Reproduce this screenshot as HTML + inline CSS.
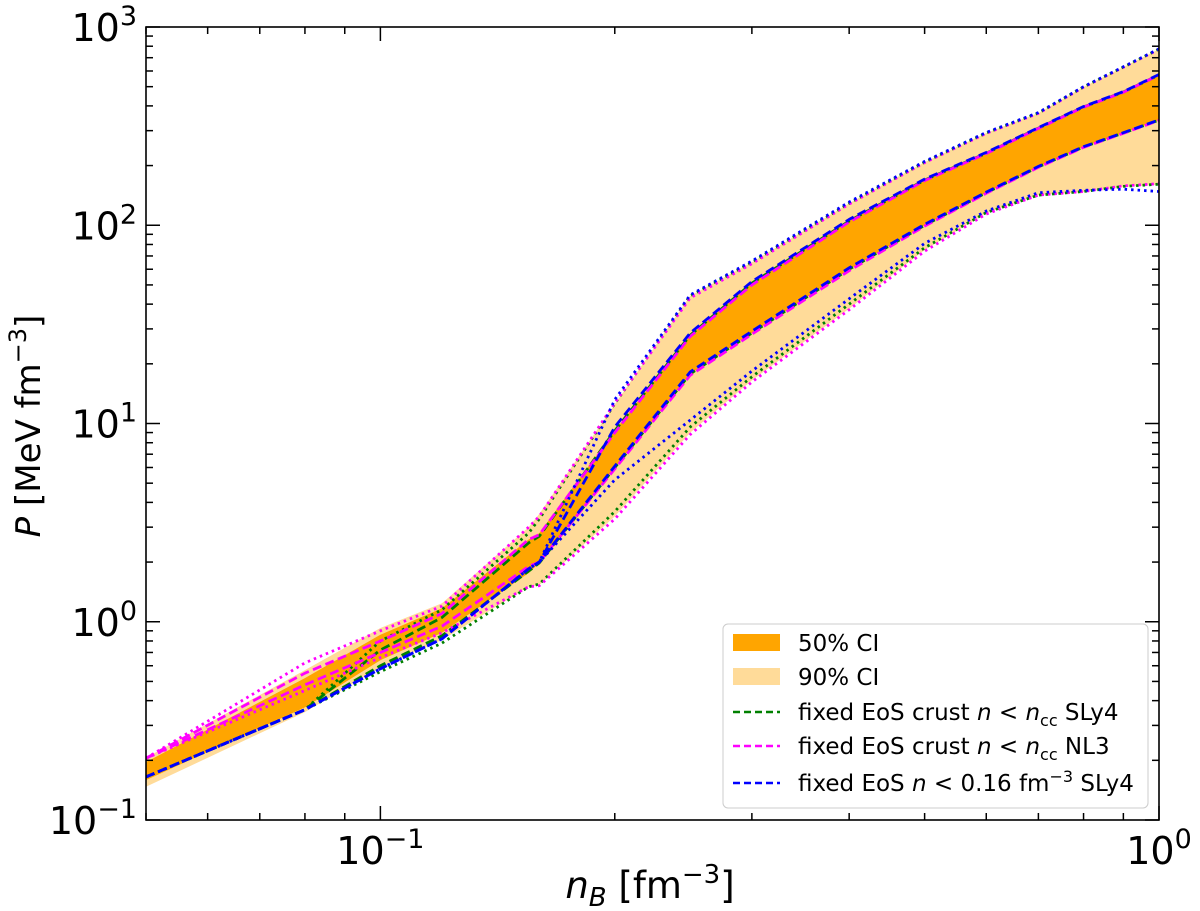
<!DOCTYPE html>
<html><head><meta charset="utf-8"><style>
html,body{margin:0;padding:0;background:#fff;}
svg{display:block;font-family:"DejaVu Sans","Liberation Sans",sans-serif;}
</style></head><body>
<svg id="chart" width="1200" height="911" viewBox="0 0 1200 911" xmlns="http://www.w3.org/2000/svg">
<defs><clipPath id="clip"><rect x="146" y="27" width="1013" height="793"/></clipPath></defs>
<g id="bands" clip-path="url(#clip)"></g>
<g id="lines" clip-path="url(#clip)"></g>
<rect x="146" y="27" width="1013" height="793" fill="none" stroke="#000" stroke-width="1.6"/>
<g id="ticks"></g>
<text x="650" y="898" font-size="37" text-anchor="middle"><tspan font-style="italic">n</tspan><tspan font-style="italic" font-size="26" dy="8">B</tspan><tspan dy="-8"> [fm</tspan><tspan font-size="26" dy="-15">−3</tspan><tspan dy="15">]</tspan></text>
<text transform="translate(40,426) rotate(-90)" font-size="34" text-anchor="middle"><tspan font-style="italic">P</tspan> [MeV fm<tspan font-size="24" dy="-14">−3</tspan><tspan dy="14">]</tspan></text>
<g>
<rect x="723" y="624" width="425" height="184" rx="5" fill="#fff" fill-opacity="0.85" stroke="#ccc" stroke-width="1"/>
<rect x="733" y="634" width="47" height="17" fill="#ffa500"/>
<text x="798" y="651" font-size="23">50% CI</text>
<rect x="733" y="668" width="47" height="17" fill="#ffdb99"/>
<text x="798" y="685" font-size="23">90% CI</text>
<line x1="733" y1="712" x2="780" y2="712" stroke="green" stroke-width="2.4" stroke-dasharray="7,4"/>
<text x="798" y="720" font-size="23">fixed EoS crust <tspan font-style="italic">n</tspan> &lt; <tspan font-style="italic">n</tspan><tspan font-size="16" dy="6">cc</tspan><tspan dy="-6"> SLy4</tspan></text>
<line x1="733" y1="746" x2="780" y2="746" stroke="#ff00ff" stroke-width="2.4" stroke-dasharray="7,4"/>
<text x="798" y="754" font-size="23">fixed EoS crust <tspan font-style="italic">n</tspan> &lt; <tspan font-style="italic">n</tspan><tspan font-size="16" dy="6">cc</tspan><tspan dy="-6"> NL3</tspan></text>
<line x1="733" y1="783" x2="780" y2="783" stroke="#0000ff" stroke-width="2.4" stroke-dasharray="7,4"/>
<text x="798" y="791" font-size="23">fixed EoS <tspan font-style="italic">n</tspan> &lt; 0.16 fm<tspan font-size="16" dy="-9">−3</tspan><tspan dy="9"> SLy4</tspan></text>
</g>
</svg>
<script>
const nB = [0.05,0.08,0.1,0.12,0.155,0.16,0.2,0.25,0.3,0.4,0.5,0.6,0.7,0.8,0.9,1.0];
const p90lo = [0.147,0.35,0.59,0.81,1.5,1.53,3.4,9.0,16.5,38,75,115,142,147,156,160];
const p50lo = [0.159,0.37,0.64,0.88,1.76,1.98,6.0,17.8,28.6,60,100,146,197,248,292,339];
const p50hi = [0.196,0.52,0.86,1.17,2.6,2.8,9.2,27.9,51,105,169,231,309,395,470,573];
const p90hi = [0.206,0.57,0.93,1.24,3.0,3.5,12.5,44,65,129,208,292,368,498,628,774];
// SLy4 crust (green)
const gLo90 = [0.165,0.36,0.56,0.78,1.5,1.55,3.6,9.6,17.2,40,77,116,142,148,157,161];
const gLo50 = [0.165,0.36,0.60,0.85,1.8,1.98,6.0,17.8,28.6,60,100,146,197,248,292,339];
const gHi50 = [0.165,0.36,0.72,1.05,2.5,2.7,9.2,27.9,51,105,169,231,309,395,470,573];
const gHi90 = [0.165,0.36,0.80,1.15,2.8,3.3,12.6,44,65,129,208,292,368,498,628,774];
// NL3 crust (magenta)
const mLo90 = [0.205,0.45,0.66,0.88,1.5,1.52,3.3,8.8,16.2,37.5,74,114,142,148,158,162];
const mLo50 = [0.205,0.48,0.70,0.95,1.9,2.0,5.9,17.5,28.2,59,99,145,196,247,291,338];
const mHi50 = [0.205,0.55,0.80,1.10,2.6,2.75,9.0,27.5,50,104,168,230,308,394,469,572];
const mHi90 = [0.205,0.62,0.90,1.20,3.0,3.4,12.7,43,64,128,207,291,367,497,627,773];
// SLy4 n<0.16 (blue)
const bLo90 = [0.165,0.36,0.58,0.82,1.85,2.0,5.2,10.4,18.4,42.6,81,118,146,150,152,148];
const bLo50 = [0.165,0.36,0.58,0.82,1.85,2.0,6.1,18.2,29.2,61,101,147,198,249,293,340];
const bHi50 = [0.165,0.36,0.58,0.82,1.85,2.0,9.6,28.6,52,107,171,233,311,397,472,576];
const bHi90 = [0.165,0.36,0.58,0.82,1.85,2.0,13.2,44.5,66,131,210,294,370,500,630,776];

const X0=146,X1=1159,Y0=27,Y1=820;
const xmin=Math.log10(0.05),xmax=0;
const ymin=-1,ymax=3;
function xs(n){return X0+(Math.log10(n)-xmin)/(xmax-xmin)*(X1-X0);}
function ys(p){return Y1-(Math.log10(p)-ymin)/(ymax-ymin)*(Y1-Y0);}
const NS="http://www.w3.org/2000/svg";
function mk(tag,attrs,parent){const e=document.createElementNS(NS,tag);for(const k in attrs)e.setAttribute(k,attrs[k]);parent.appendChild(e);return e;}
function bandPath(lo,hi){let d="";nB.forEach((n,i)=>{d+=(i?"L":"M")+xs(n).toFixed(1)+","+ys(hi[i]).toFixed(1);});for(let i=nB.length-1;i>=0;i--)d+="L"+xs(nB[i]).toFixed(1)+","+ys(lo[i]).toFixed(1);return d+"Z";}
function linePath(v){return nB.map((n,i)=>(i?"L":"M")+xs(n).toFixed(1)+","+ys(v[i]).toFixed(1)).join("");}
const bands=document.getElementById("bands");
const b90=mk("path",{d:bandPath(p90lo,p90hi),fill:"#ffdb99"},bands);


const b50=mk("path",{d:bandPath(p50lo,p50hi),fill:"#ffa500"},bands);


const lines=document.getElementById("lines");
const series=[
 ["green",gLo90,"dot","sly4-crust-lo90"],["green",gLo50,"dash","sly4-crust-lo50"],["green",gHi50,"dash","sly4-crust-hi50"],["green",gHi90,"dot","sly4-crust-hi90"],
 ["#ff00ff",mLo90,"dot","nl3-crust-lo90"],["#ff00ff",mLo50,"dash","nl3-crust-lo50"],["#ff00ff",mHi50,"dash","nl3-crust-hi50"],["#ff00ff",mHi90,"dot","nl3-crust-hi90"],
 ["#0000ff",bLo90,"dot","sly4-016-lo90"],["#0000ff",bLo50,"dash","sly4-016-lo50"],["#0000ff",bHi50,"dash","sly4-016-hi50"],["#0000ff",bHi90,"dot","sly4-016-hi90"]];
series.forEach(s=>{
 const p=mk("path",{d:linePath(s[1]),fill:"none",stroke:s[0],"stroke-width":"2.8","stroke-dasharray":s[2]=="dot"?"2.5,4":"9,4.5","stroke-linejoin":"round"},lines);
 
 
});
const ticks=document.getElementById("ticks");
for(let e=-2;e<=0;e++){for(let m=1;m<=9;m++){const v=m*Math.pow(10,e);if(v<0.05-1e-9||v>1+1e-9)continue;const x=xs(v);const L=m==1?14:7;
 mk("line",{x1:x,y1:Y1,x2:x,y2:Y1-L,stroke:"#000","stroke-width":1.5},ticks);
 mk("line",{x1:x,y1:Y0,x2:x,y2:Y0+L,stroke:"#000","stroke-width":1.5},ticks);}}
for(let e=-1;e<=3;e++){for(let m=1;m<=9;m++){const v=m*Math.pow(10,e);if(v>1000.001)continue;const y=ys(v);const L=m==1?14:7;
 mk("line",{x1:X0,y1:y,x2:X0+L,y2:y,stroke:"#000","stroke-width":1.5},ticks);
 mk("line",{x1:X1,y1:y,x2:X1-L,y2:y,stroke:"#000","stroke-width":1.5},ticks);}}
const xt=[["−1",0.1],["0",1]];
xt.forEach(t=>{const tx=mk("text",{x:xs(t[1]),y:864,"font-size":38,"text-anchor":"middle"},ticks);tx.innerHTML='10<tspan font-size="27" dy="-16">'+t[0]+'</tspan>';
 
 });
const yt=[-1,0,1,2,3];
yt.forEach(e=>{const tx=mk("text",{x:137,y:ys(Math.pow(10,e))+14,"font-size":38,"text-anchor":"end"},ticks);tx.innerHTML='10<tspan font-size="27" dy="-16">'+(e<0?"−"+(-e):e)+'</tspan>';
 
 });
</script>
</body></html>
